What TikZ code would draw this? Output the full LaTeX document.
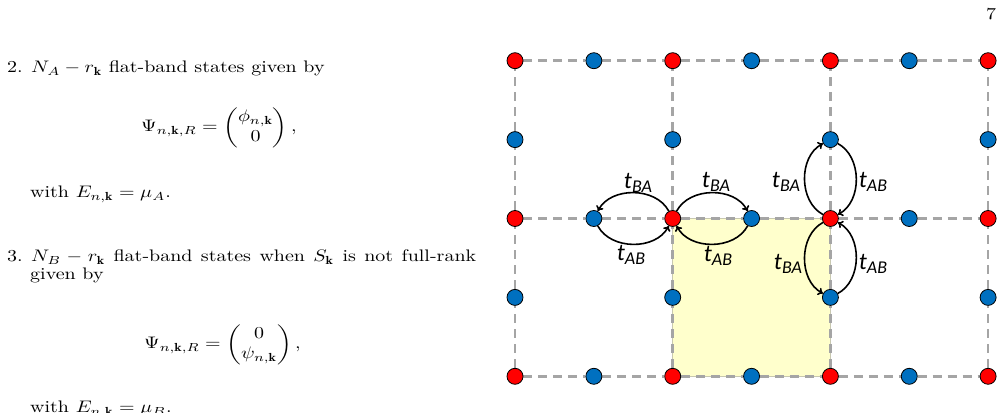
\documentclass[tikz,border=0pt]{standalone}
\usepackage{amsmath}
\usepackage{graphicx}
\usepackage{fontspec}
\newfontfamily\lblfont{Carlito}
\usetikzlibrary{backgrounds,arrows.meta}
\definecolor{siteRed}{HTML}{FF0000}
\definecolor{siteBlue}{HTML}{0070C0}
\definecolor{gridgray}{HTML}{A5A5A5}
\definecolor{cellyellow}{HTML}{FFFFCC}
\definecolor{cellborder}{HTML}{C8C8B0}
\newcommand\pagetxt[1]{\scalebox{2.0}[1.67]{#1}}
\newcommand\hoplbl[1]{\fontsize{24}{24}\selectfont t\raisebox{-4pt}{\fontsize{18}{18}\selectfont #1}}
\tikzset{
  latline/.style={draw=gridgray, line width=2.6pt, dash pattern=on 9pt off 6pt},
  siteA/.style={circle, fill=siteRed, draw=black, line width=0.8pt, minimum size=16pt, inner sep=0pt},
  siteB/.style={circle, fill=siteBlue, draw=black, line width=0.8pt, minimum size=16pt, inner sep=0pt},
  hop/.style={-{To[length=5pt,width=8pt]}, line width=1.6pt, black},
  lbl/.style={font=\lblfont\itshape, inner sep=0pt},
  txt/.style={anchor=base west, inner sep=0pt},
  cell/.style={fill=cellyellow, draw=cellborder, line width=0.8pt}
}
\begin{document}
\begin{tikzpicture}[x=1pt,y=1pt]
\useasboundingbox (0,0) rectangle (1003,412);
\clip (0,0) rectangle (1003,412);
% page number
\node[txt] (pnum) at (986,392) {\pagetxt{7}};
% text column
\node[txt] (l2) at (7,339) {\pagetxt{2.}};
\node[txt] (t2) at (31,339) {\pagetxt{$N_A - r_{\mathbf{k}}$ flat-band states given by}};
\node[txt] (e1) at (141,280) {\pagetxt{$\Psi_{n,\mathbf{k},R} = \begin{pmatrix}\phi_{n,\mathbf{k}}\\ 0\end{pmatrix},$}};
\node[txt] (w1) at (30,214) {\pagetxt{with $E_{n,\mathbf{k}} = \mu_A$.}};
\node[txt] (l3) at (7,150) {\pagetxt{3.}};
\node[txt] (t3) at (31,150) {\pagetxt{\hbox to 222.5pt{$N_B - r_{\mathbf{k}}$ flat-band states when $S_{\mathbf{k}}$ is not full-rank}}};
\node[txt] (t3b) at (30,132) {\pagetxt{given by}};
\node[txt] (e2) at (144,63) {\pagetxt{$\Psi_{n,\mathbf{k},R} = \begin{pmatrix}0\\ \psi_{n,\mathbf{k}}\end{pmatrix},$}};
\node[txt] (w2) at (30,-0.5) {\pagetxt{with $E_{n,\mathbf{k}} = \mu_B$.}};
% lattice sites
\foreach \i in {0,...,3} \foreach \j in {0,...,2}
  \node[siteA] (A\i\j) at (515+157.7*\i, 35.7+157.8*\j) {};
\foreach \i in {0,...,2} \foreach \j in {0,...,2}
  \node[siteB] (H\i\j) at (593.85+157.7*\i, 35.7+157.8*\j) {};
\foreach \i in {0,...,3} \foreach \j in {0,1}
  \node[siteB] (V\i\j) at (515+157.7*\i, 114.6+157.8*\j) {};
\begin{scope}[on background layer]
  \path[cell] (A11.center) rectangle (A20.center);
  \foreach \j in {0,1,2}
    \draw[latline] (A0\j) -- (H0\j) -- (A1\j) -- (H1\j) -- (A2\j) -- (H2\j) -- (A3\j);
  \foreach \i in {0,...,3}
    \draw[latline] (A\i0) -- (V\i0) -- (A\i1) -- (V\i1) -- (A\i2);
\end{scope}
% hoppings
\draw[hop] (A11) to[bend right=62] (H01);
\draw[hop] (H01) to[bend right=62] (A11);
\draw[hop] (A11) to[bend left=62] (H11);
\draw[hop] (H11) to[bend left=62] (A11);
\draw[hop] (A21) to[bend left=62] (V21);
\draw[hop] (V21) to[bend left=62] (A21);
\draw[hop] (A21) to[bend right=62] (V20);
\draw[hop] (V20) to[bend right=62] (A21);
% labels
\node[lbl] (la1) at (638,229) {\hoplbl{BA}};
\node[lbl] (la2) at (716,230) {\hoplbl{BA}};
\node[lbl] (la3) at (631,157) {\hoplbl{AB}};
\node[lbl] (la4) at (718,156) {\hoplbl{AB}};
\node[lbl] (la5) at (786,230) {\hoplbl{BA}};
\node[lbl] (la6) at (873,230) {\hoplbl{AB}};
\node[lbl] (la7) at (788,148) {\hoplbl{BA}};
\node[lbl] (la8) at (873,148) {\hoplbl{AB}};
\end{tikzpicture}
\end{document}
